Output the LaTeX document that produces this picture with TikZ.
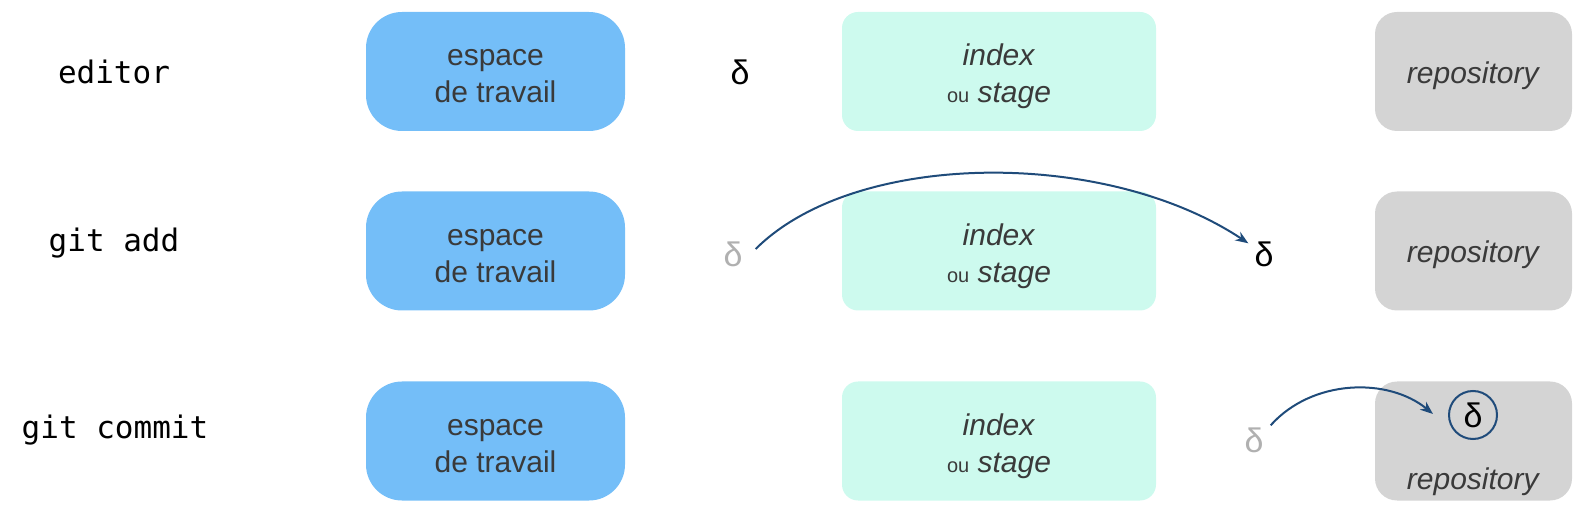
\documentclass[tikz,border=0pt]{standalone}
\usepackage{fontspec}
\setmainfont{Liberation Sans}
\setmonofont{DejaVu Sans Mono}
\usetikzlibrary{arrows.meta}
\definecolor{wsblue}{HTML}{74BEF8}
\definecolor{idxmint}{HTML}{CDFAEE}
\definecolor{repogray}{HTML}{D4D4D4}
\definecolor{txtgray}{HTML}{3A3A3A}
\definecolor{dgray}{HTML}{B0B0B0}
\definecolor{arrblue}{HTML}{1F4B7A}
\newcommand{\ousz}{\fontsize{20}{20}\selectfont}
\begin{document}
\begin{tikzpicture}[x=1pt,y=-1pt,
  cmd/.style={font=\ttfamily\fontsize{31}{31}\selectfont, text=black},
  boxtxt/.style={text=txtgray, align=center, font=\fontsize{30}{37}\selectfont},
  box/.style={minimum height=119pt, inner sep=0pt},
  wsbox/.style={box, fill=wsblue, rounded corners=36pt, minimum width=259pt},
  idxbox/.style={box, fill=idxmint, rounded corners=16pt, minimum width=314pt},
  repobox/.style={box, fill=repogray, rounded corners=22pt, minimum width=197pt},
  delta/.style={font=\fontsize{34}{34}\selectfont, text=black, inner sep=1pt},
  gdelta/.style={delta, text=dgray},
  flow/.style={draw=arrblue, line width=2pt, -{Stealth[length=13pt,width=10pt]}},
]
\useasboundingbox (0,0) rectangle (1580,510);
% row labels
\node[cmd] (c1) at (114,72) {editor};
\node[cmd] (c2) at (114,243) {git add};
\node[cmd] (c3) at (115,430) {git commit};
% row 1
\node[wsbox] (w1) at (495.5,71.5) {};
\node[boxtxt] (w1t) at ([yshift=-5pt]w1.center) {espace\\de travail};
\node[idxbox] (i1) at (999,71.5) {};
\node[boxtxt] (i1t) at ([yshift=-5pt]i1.center) {\textit{index}\\{\ousz ou} \textit{stage}};
\node[repobox] (r1) at (1473.5,71.5) {};
\node[boxtxt] (r1t) at ([yshift=-4pt]r1.center) {\textit{repository}};
\node[delta] (d1) at (740,72) {δ};
% row 2
\node[wsbox] (w2) at (495.5,251) {};
\node[boxtxt] (w2t) at ([yshift=-5pt]w2.center) {espace\\de travail};
\node[idxbox] (i2) at (999,251) {};
\node[boxtxt] (i2t) at ([yshift=-5pt]i2.center) {\textit{index}\\{\ousz ou} \textit{stage}};
\node[repobox] (r2) at (1473.5,251) {};
\node[boxtxt] (r2t) at ([yshift=-4pt]r2.center) {\textit{repository}};
\node[gdelta] (d2a) at (733,254) {δ};
\node[delta] (d2b) at (1264,254) {δ};
\draw[flow] (d2a.east) ++(12,-5) coordinate (s2) (s2) .. controls (855,150) and (1105,148) .. ([xshift=-5pt,yshift=-3pt]d2b.north west);
% row 3
\node[wsbox] (w3) at (495.5,441) {};
\node[boxtxt] (w3t) at ([yshift=-5pt]w3.center) {espace\\de travail};
\node[idxbox] (i3) at (999,441) {};
\node[boxtxt] (i3t) at ([yshift=-5pt]i3.center) {\textit{index}\\{\ousz ou} \textit{stage}};
\node[repobox] (r3) at (1473.5,441) {};
\node[boxtxt] (r3t) at (1473.5,482) {\textit{repository}};
\node[gdelta] (d3) at (1254,440) {δ};
\node[delta, draw=arrblue, line width=2pt, circle, minimum size=48pt, inner sep=0pt] (d3c) at (1473,415) {δ};
\draw[flow] (d3.north east) ++(6,-1) coordinate (s3) (s3) .. controls (1312,379) and (1388,377) .. ([xshift=-15pt,yshift=1pt]d3c.west);
\end{tikzpicture}
\end{document}
